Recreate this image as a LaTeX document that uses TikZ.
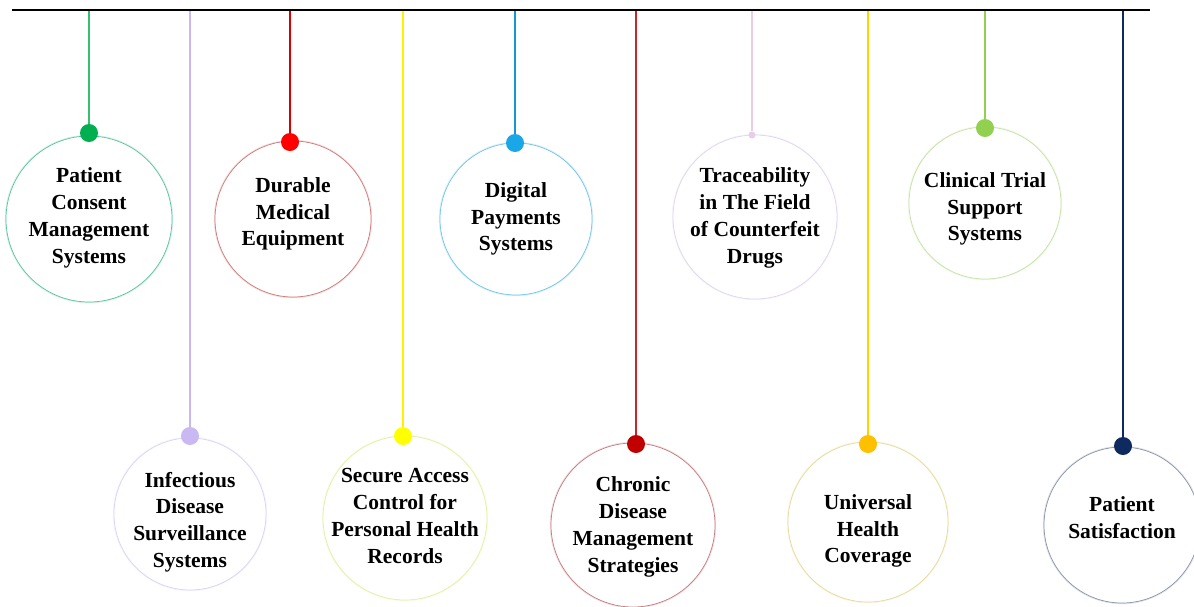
\documentclass[tikz,border=0pt]{standalone}
\usepackage{fontspec}
\setmainfont{Liberation Serif}
\usetikzlibrary{calc}
\definecolor{cGreen}{HTML}{00B050}
\definecolor{cLav}{HTML}{C9B8F2}
\definecolor{cRed}{HTML}{FF0000}
\definecolor{cYel}{HTML}{FFFF00}
\definecolor{cBlue}{HTML}{1AA7E8}
\definecolor{cDRed}{HTML}{C00000}
\definecolor{cPink}{HTML}{E8CCEA}
\definecolor{cGold}{HTML}{FFC000}
\definecolor{cLGreen}{HTML}{92D050}
\definecolor{cNavy}{HTML}{0F2A5E}
\definecolor{r1}{HTML}{5CC49C}
\definecolor{r2}{HTML}{D07878}
\definecolor{r3}{HTML}{70C4E8}
\definecolor{r4}{HTML}{E0D4F0}
\definecolor{r5}{HTML}{C4E2A4}
\definecolor{r6}{HTML}{DAD2F4}
\definecolor{r7}{HTML}{E6EEA0}
\definecolor{r8}{HTML}{C47C80}
\definecolor{r9}{HTML}{E6DA98}
\definecolor{r10}{HTML}{8A94A8}
\tikzset{
  ring/.style={circle, draw=#1, line width=0.7pt, inner sep=0pt, fill=white,
    preaction={draw=#1, draw opacity=0.25, line width=2.4pt}},
  dotmark/.style={circle, fill=#1, inner sep=0pt, minimum size=18pt},
  stem/.style={draw=#1, line width=1.5pt},
  lbl/.style={align=center, font=\fontsize{21.5}{26.8}\selectfont\bfseries, inner sep=0pt}
}
\begin{document}
\begin{tikzpicture}[x=1pt,y=-1pt]
\useasboundingbox (0,0) rectangle (1194,606);
\coordinate (L) at (12,10);
\coordinate (R) at (1150,10);
% top anchors
\coordinate (t1) at (89,10);
\coordinate (t2) at (290,10);
\coordinate (t3) at (515,10);
\coordinate (t4) at (752,10);
\coordinate (t5) at (985,10);
\coordinate (t6) at (190,10);
\coordinate (t7) at (403,10);
\coordinate (t8) at (636,10);
\coordinate (t9) at (868,10);
\coordinate (t10) at (1123,10);
% circles
\node[ring=r1, minimum size=166pt] (c1) at (89,219) {};
\node[ring=r2, minimum size=156pt] (c2) at (293,219) {};
\node[ring=r3, minimum size=152pt] (c3) at (516,219) {};
\node[ring=r4, minimum size=164pt] (c4) at (755,217) {};
\node[ring=r5, minimum size=152pt] (c5) at (985,203) {};
\node[ring=r6, minimum size=152pt] (c6) at (190,514) {};
\node[ring=r7, minimum size=164pt] (c7) at (405,518) {};
\node[ring=r8, minimum size=164pt] (c8) at (633,525) {};
\node[ring=r9, minimum size=160pt] (c9) at (868,522) {};
\node[ring=r10, minimum size=156pt] (c10) at (1122,525) {};
% dots
\node[dotmark=cGreen] (d1) at (89,133) {};
\node[dotmark=cRed] (d2) at (290,142) {};
\node[dotmark=cBlue] (d3) at (515,143) {};
\node[dotmark=cPink, minimum size=7pt] (d4) at (752,135) {};
\node[dotmark=cLGreen] (d5) at (985,128) {};
\node[dotmark=cLav] (d6) at (190,436) {};
\node[dotmark=cYel] (d7) at (403,436) {};
\node[dotmark=cDRed] (d8) at (636,444) {};
\node[dotmark=cGold] (d9) at (868,444) {};
\node[dotmark=cNavy] (d10) at (1123,446) {};
% stems
\draw[stem=cGreen!80] (t1) -- (d1);
\draw[stem=cRed!85!black] (t2) -- (d2);
\draw[stem=cBlue!90!black] (t3) -- (d3);
\draw[stem=cPink] (t4) -- (d4);
\draw[stem=cLGreen] (t5) -- (d5);
\draw[stem=cLav] (t6) -- (d6);
\draw[stem=cYel!90!orange] (t7) -- (d7);
\draw[stem=cDRed!85] (t8) -- (d8);
\draw[stem=cGold!70!yellow] (t9) -- (d9);
\draw[stem=cNavy] (t10) -- (d10);
\draw[line width=2.8pt, black] (L) -- (R);
% labels
\node[lbl] (l1) at ($(c1)+(0,-1)$) {Patient\\Consent\\Management\\Systems};
\node[lbl] (l2) at ($(c2)+(0,-5)$) {Durable\\Medical\\Equipment};
\node[lbl] (l3) at ($(c3)+(0,0)$) {Digital\\Payments\\Systems};
\node[lbl] (l4) at ($(c4)+(0,1)$) {Traceability\\in The Field\\of Counterfeit\\Drugs};
\node[lbl] (l5) at ($(c5)+(0,6)$) {Clinical Trial\\Support\\Systems};
\node[lbl] (l6) at ($(c6)+(0,8)$) {Infectious\\Disease\\Surveillance\\Systems};
\node[lbl] (l7) at ($(c7)+(0,-2)$) {Secure Access\\Control for\\Personal Health\\Records};
\node[lbl] (l8) at ($(c8)+(0,2)$) {Chronic\\Disease\\Management\\Strategies};
\node[lbl] (l9) at ($(c9)+(0,9)$) {Universal\\Health\\Coverage};
\node[lbl] (l10) at ($(c10)+(0,-7)$) {Patient\\Satisfaction};
\end{tikzpicture}
\end{document}
